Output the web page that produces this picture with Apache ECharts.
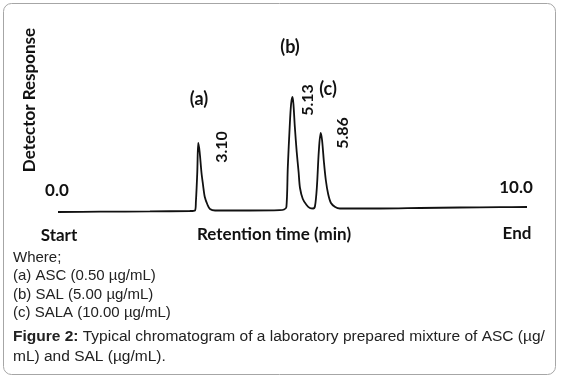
<!DOCTYPE html>
<html>
<head>
<meta charset="utf-8">
<script src="https://cdn.jsdelivr.net/npm/echarts@6/dist/echarts.min.js"></script>
<style>
  html, body { margin: 0; padding: 0; background: #fff; }
  #chart { width: 561px; height: 380px; }
</style>
</head>
<body>
<div id="chart"></div>
<script>
// 保留时间 (min) 与检测器响应
var retentionTime = [0, 0.9, 1.96, 2.81, 2.92, 2.94, 2.97, 2.99, 3.02, 3.06, 3.09, 3.13, 3.19, 3.24, 3.35,
	4.09, 4.73, 4.82, 4.87, 4.90, 4.94, 4.97, 5.0, 5.02, 5.05, 5.09, 5.13, 5.16, 5.22, 5.30, 5.37, 5.44,
	5.48, 5.52, 5.56, 5.60, 5.63, 5.67, 5.71, 5.76, 5.82, 5.91, 6.01,
	6.87, 7.72, 8.57, 9.42, 10];
var detectorResponse = [0, 0.3, 0.6, 1, 1.5, 10, 40, 69, 60, 39, 28, 15, 7, 3, 1.5,
	1.5, 1.8, 2.5, 5, 45, 85, 108, 115, 108, 85, 60, 40, 24, 13, 7, 4, 3.5,
	6, 25, 60, 79, 72, 50, 32, 18, 9, 5, 3.5,
	3.5, 4, 4.5, 4.8, 5];
// 峰标注
var peakNames = ['(a)', '(b)', '(c)'];
var peakTimes = ['3.10', '5.13', '5.86'];
var legendLines = ['Where;', '(a) ASC (0.50 µg/mL)', '(b) SAL (5.00 µg/mL)', '(c) SALA (10.00 µg/mL)'];

var boldFont = 'Lato, "DejaVu Sans", sans-serif';
var capFont = '"Liberation Sans", Arial, sans-serif';

var chart = echarts.init(document.getElementById('chart'));
var seriesData = [];
for (var i = 0; i < retentionTime.length; i++) {
	seriesData.push([retentionTime[i], detectorResponse[i]]);
}

function boldText(txt, x, y, rot, size) {
	return {
		type: 'text',
		x: x, y: y,
		rotation: rot ? Math.PI / 2 : 0,
		style: {
			text: txt,
			fill: '#111',
			font: 'bold ' + (size || 17) + 'px ' + boldFont,
			align: 'center',
			verticalAlign: 'middle'
		}
	};
}
function capText(txt, y) {
	return {
		type: 'text',
		x: 13, y: y,
		style: { text: txt, fill: '#222', font: '15px ' + capFont, verticalAlign: 'middle' }
	};
}

var graphics = [
	{
		type: 'rect',
		shape: { x: 3.5, y: 3.5, width: 552, height: 371, r: 8 },
		style: { fill: 'none', stroke: '#a6a6a6', lineWidth: 1 }
	},
	boldText('Detector Response', 30, 100, true),
	boldText('0.0', 57, 191),
	boldText('10.0', 516, 188),
	boldText('Start', 59, 236),
	boldText('Retention time (min)', 274, 235),
	boldText('End', 517, 234),
	boldText(peakNames[0], 199, 99, false, 18),
	boldText(peakNames[1], 290, 47, false, 18),
	boldText(peakNames[2], 328, 89, false, 18),
	boldText(peakTimes[0], 222, 147, true, 16),
	boldText(peakTimes[1], 308, 100, true, 16),
	boldText(peakTimes[2], 343, 133, true, 16)
];
for (var k = 0; k < legendLines.length; k++) {
	graphics.push(capText(legendLines[k], 258 + k * 18.3));
}
graphics.push({
	type: 'text',
	x: 13, y: 327,
	style: {
		text: '{b|Figure 2:} Typical chromatogram of a laboratory prepared mixture of ASC (µg/\nmL) and SAL (µg/mL).',
		fill: '#222',
		font: '15.5px ' + capFont,
		lineHeight: 20,
		rich: { b: { font: 'bold 15.5px ' + capFont, fill: '#222', lineHeight: 20 } }
	}
});

var option = {
	animation: false,
	grid: { left: 58, right: 34, top: 92, height: 120 },
	xAxis: { type: 'value', min: 0, max: 10, show: false },
	yAxis: { type: 'value', min: 0, max: 120, show: false },
	series: [{
		type: 'line',
		data: seriesData,
		symbol: 'none',
		smooth: 0.3,
		lineStyle: { color: '#111', width: 1.8 }
	}],
	graphic: graphics
};
chart.setOption(option);
</script>
</body>
</html>
